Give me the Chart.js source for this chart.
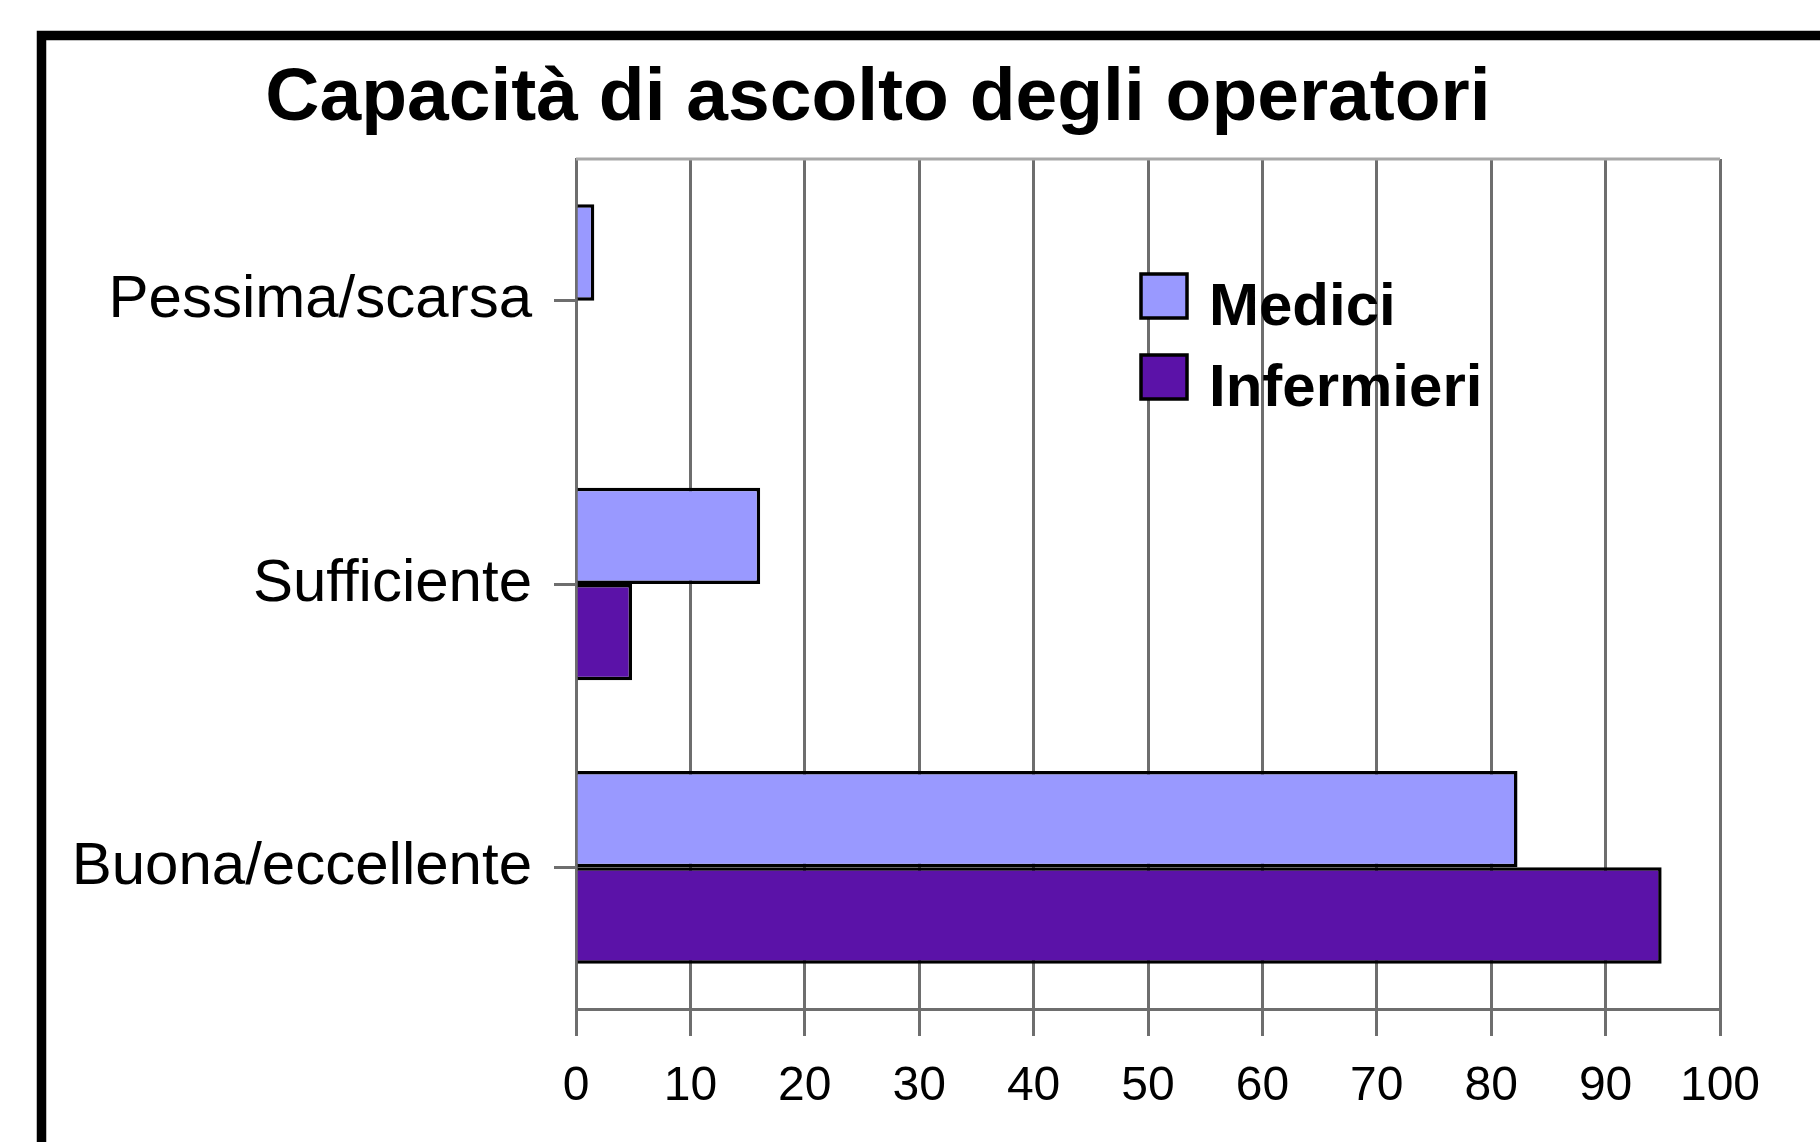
<!DOCTYPE html>
<html>
<head>
<meta charset="utf-8">
<script src="https://cdn.jsdelivr.net/npm/chart.js@4.4.0/dist/chart.umd.min.js"></script>
<style>
  html, body { margin: 0; padding: 0; background: #fff; }
  #wrap { width: 1820px; height: 1142px; }
</style>
</head>
<body>
<div id="wrap"><canvas id="chart" width="1820" height="1142"></canvas></div>
<script>
// dati del grafico
const categorie = ['Pessima/scarsa', 'Sufficiente', 'Buona/eccellente'];
const medici = [1.6, 16.1, 82.3];
const infermieri = [0, 4.9, 94.9];
const tickValori = [0, 10, 20, 30, 40, 50, 60, 70, 80, 90, 100];
const titolo = 'Capacità di ascolto degli operatori';

const FONT = '"Liberation Sans", Arial, sans-serif';
const GRID = '#6e6e6e';

// cornice, titolo e legenda disegnati a mano
const decorPlugin = {
    id: 'decor',
    beforeDraw(chart) {
        const ctx = chart.ctx;
        ctx.save();
        ctx.fillStyle = '#fff';
        ctx.fillRect(0, 0, chart.width, chart.height);
        ctx.lineWidth = 9.5;
        ctx.strokeStyle = '#000';
        ctx.strokeRect(41.5, 35.5, 3000, 3000);
        ctx.restore();
    },
    afterDraw(chart) {
        const ctx = chart.ctx;
        const area = chart.chartArea;
        ctx.save();
        // linea superiore dell'area
        ctx.strokeStyle = '#a8a8a8';
        ctx.lineWidth = 3;
        ctx.beginPath();
        ctx.moveTo(area.left, area.top);
        ctx.lineTo(area.right, area.top);
        ctx.stroke();

        // titolo
        ctx.fillStyle = '#000';
        ctx.font = 'bold 75px ' + FONT;
        ctx.textAlign = 'center';
        ctx.textBaseline = 'alphabetic';
        ctx.fillText(titolo, 878, 120);

        // legenda
        ctx.textAlign = 'left';
        ctx.font = 'bold 60px ' + FONT;
        chart.data.datasets.forEach(function(ds, i) {
            const y = 274 + i * 81;
            ctx.fillStyle = ds.backgroundColor;
            ctx.fillRect(1141, y, 46, 44);
            ctx.lineWidth = 3.5;
            ctx.strokeStyle = '#000';
            ctx.strokeRect(1141, y, 46, 44);
            ctx.fillStyle = '#000';
            ctx.fillText(ds.label, 1209, y + 51);
        });
        ctx.restore();
    }
};

new Chart(document.getElementById('chart').getContext('2d'), {
    type: 'bar',
    data: {
        labels: categorie,
        datasets: [{
            label: 'Medici',
            data: medici,
            backgroundColor: '#9999ff',
            borderColor: '#000',
            borderWidth: 3.5,
            categoryPercentage: 0.68,
            barPercentage: 1.0
        }, {
            label: 'Infermieri',
            data: infermieri,
            backgroundColor: '#5b12a8',
            borderColor: '#000',
            borderWidth: 3.5,
            categoryPercentage: 0.68,
            barPercentage: 1.0
        }]
    },
    options: {
        indexAxis: 'y',
        responsive: false,
        animation: false,
        layout: { padding: { top: 159, right: 100, left: 0, bottom: 0 } },
        plugins: {
            legend: { display: false },
            title: { display: false },
            tooltip: { enabled: false }
        },
        scales: {
            x: {
                min: 0,
                max: 100,
                afterBuildTicks: function(axis) {
                    axis.ticks = tickValori.map(function(v) { return { value: v }; });
                },
                afterFit: function(axis) { axis.height = 133; },
                grid: { color: GRID, lineWidth: 3, tickLength: 27, drawTicks: true },
                border: { color: GRID, width: 3 },
                ticks: { color: '#000', font: { family: FONT, size: 48 }, padding: 22, maxRotation: 0 }
            },
            y: {
                afterFit: function(axis) { axis.width = 576; },
                grid: { offset: false, drawOnChartArea: false, color: GRID, lineWidth: 3, tickLength: 22 },
                border: { color: GRID, width: 3 },
                ticks: { color: '#000', font: { family: FONT, size: 60 }, padding: 22 }
            }
        }
    },
    plugins: [decorPlugin]
});
</script>
</body>
</html>
